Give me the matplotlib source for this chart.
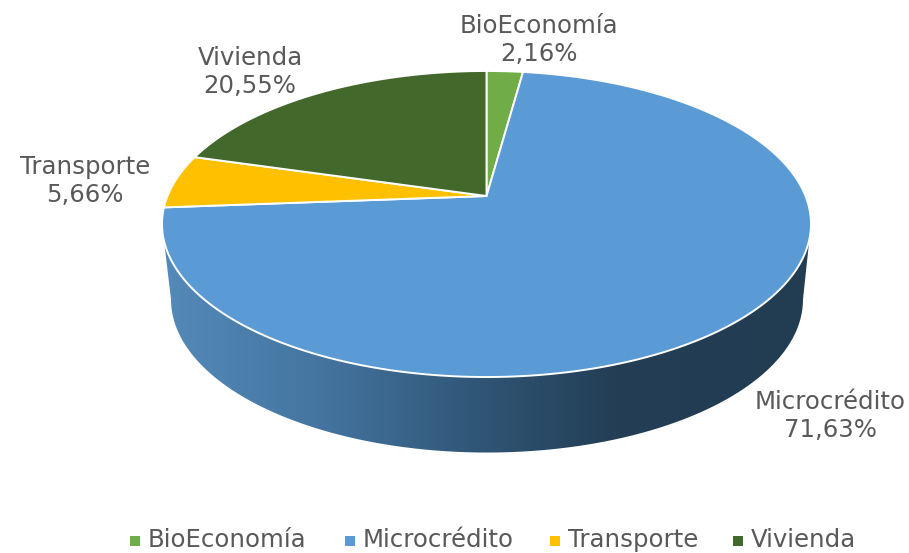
import numpy as np
import matplotlib
matplotlib.use("Agg")
import matplotlib.pyplot as plt
from matplotlib.patches import Polygon
from matplotlib.colors import LinearSegmentedColormap

categories = ["BioEconomía", "Microcrédito", "Transporte", "Vivienda"]
values = [2.16, 71.63, 5.66, 20.55]
labels = ["2,16%", "71,63%", "5,66%", "20,55%"]
colors = ["#70AD47", "#5B9BD5", "#FFC000", "#43682B"]

FONT = "DejaVu Sans"
TXT = "#595959"
FS = 17.6

fig = plt.figure(figsize=(9.09, 5.53), dpi=100)
ax = fig.add_axes([0, 0, 1, 1])
ax.set_xlim(0, 909)
ax.set_ylim(553, 0)
ax.axis("off")

X0, Y0, R, B, K = 486.5, 196.0, 319.0, 147.9, 0.183


def proj(theta):
    w = 1 + K * np.cos(theta)
    return X0 + R * np.sin(theta) / w, Y0 - B * np.cos(theta) / w


# side wall
th = np.linspace(np.arccos(-K), 2 * np.pi - np.arccos(-K), 400)
xt, yt = proj(th)
xb = 487 + (xt - 486.5) * 316 / 324.5
yb = yt + 75.5
poly = np.r_[np.c_[xt, yt], np.c_[xb, yb][::-1]]
cmap = LinearSegmentedColormap.from_list(
    "side", [(0, "#548AB9"), (0.25, "#44749F"), (0.5, "#2F5474"), (0.7, "#233E55"), (1, "#223C52")]
)
im = ax.imshow(np.linspace(0, 1, 512)[None, :], cmap=cmap, extent=(162, 811, 460, 200),
               aspect="auto", zorder=1)
clip = Polygon(poly, closed=True, transform=ax.transData, fc="none", ec="none")
ax.add_patch(clip)
im.set_clip_path(clip)
ax.set_xlim(0, 909)
ax.set_ylim(553, 0)

# top slices
start = 0.0
for v, c in zip(values, colors):
    end = start + v / sum(values) * 2 * np.pi
    t = np.linspace(start, end, 300)
    x, y = proj(t)
    ax.add_patch(Polygon(np.r_[[[X0, Y0]], np.c_[x, y]], closed=True, fc=c, ec="white",
                         lw=1.4, joinstyle="round", zorder=2))
    start = end

# data labels
label_pos = [(539, 40), (830, 416), (85, 181), (250, 72)]
for cat, lab, (lx, ly) in zip(categories, labels, label_pos):
    ax.text(lx, ly, f"{cat}\n{lab}", ha="center", va="center", fontsize=FS, color=TXT,
            family=FONT, linespacing=1.26, zorder=3)

# legend
leg_x = [135, 350, 555, 738]
for cat, c, lx in zip(categories, colors, leg_x):
    ax.scatter([lx], [541], marker="s", s=42, color=c, linewidths=0, zorder=3)
    ax.text(lx + 13, 547, cat, ha="left", va="baseline", fontsize=FS, color=TXT, family=FONT, zorder=3)

fig.savefig("out.png", dpi=100)
